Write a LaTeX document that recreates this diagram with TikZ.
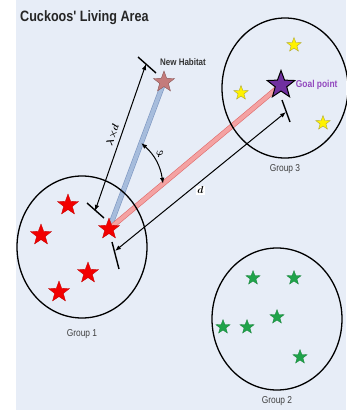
\documentclass[tikz,border=0pt]{standalone}
\usepackage{fontspec}
\setmainfont{Liberation Sans}
\newfontfamily\narrowsans{Liberation Sans}[FakeStretch=0.84]
\usetikzlibrary{arrows.meta, positioning, shapes.geometric, calc, backgrounds}
\definecolor{areaBlue}{HTML}{E7EDF7}
\definecolor{nestRed}{HTML}{F20000}
\definecolor{nestGreen}{HTML}{1FA34A}
\definecolor{nestYellow}{HTML}{FFF200}
\definecolor{goalPurple}{HTML}{7030A0}
\definecolor{goalText}{HTML}{9248BE}
\definecolor{habitatRose}{HTML}{C47B7B}
\definecolor{beamBlue}{HTML}{A6BCDC}
\definecolor{beamBlueDark}{HTML}{7D96C0}
\definecolor{beamRed}{HTML}{F4A2A2}
\definecolor{beamRedDark}{HTML}{E06A6A}

\begin{document}
\begin{tikzpicture}[x=1pt, y=-1pt]
    \tikzset{
        group/.style={ellipse, draw=black, line width=1.3pt, minimum width=130pt, minimum height=142pt, inner sep=0pt},
        grouplabel/.style={font=\narrowsans\fontsize{10}{12}\selectfont, text=black!75},
        cuckoo/.style={star, star points=5, star point ratio=2.4, inner sep=0pt, minimum size=#1},
        dimline/.style={black, line width=1pt, {Latex[length=6pt, width=4.5pt]}-{Latex[length=6pt, width=4.5pt]}},
        dimtick/.style={black, line width=1.4pt},
        dimlabel/.style={font=\boldmath\fontsize{10}{12}\selectfont},
        beam/.style={line width=0.6pt, double distance=4pt},
    }
    \useasboundingbox (0,0) rectangle (346,410);

    % Title
    \node[font=\narrowsans\bfseries\fontsize{15}{17}\selectfont, anchor=base west, text=black!85, inner sep=0pt] (title) at (20,21) {Cuckoos' Living Area};

    % Groups
    \node[group] (g1) at (82,247) {};
    \node[grouplabel, below=7pt of g1] (g1lab) {Group 1};
    \node[group] (g2) at (277,319) {};
    \node[grouplabel, below=2pt of g2] (g2lab) {Group 2};
    \node[group, minimum width=126pt, minimum height=140pt] (g3) at (285,88) {};
    \node[grouplabel, below=2pt of g3] (g3lab) {Group 3};

    % Group 1 cuckoos
    \node[cuckoo=22pt, fill=nestRed, draw=nestRed!80!black, line width=0.3pt] (r1) at (68,205) {};
    \node[cuckoo=22pt, fill=nestRed, draw=nestRed!80!black, line width=0.3pt] (r2) at (41,235) {};
    \node[cuckoo=22pt, fill=nestRed, draw=nestRed!80!black, line width=0.3pt] (r3) at (88,273) {};
    \node[cuckoo=22pt, fill=nestRed, draw=nestRed!80!black, line width=0.3pt] (r4) at (59,292) {};
    \node[cuckoo=22pt, fill=nestRed, draw=nestRed!80!black, line width=0.3pt] (cur) at (109,229) {};

    % Group 2 cuckoos
    \node[cuckoo=15pt, fill=nestGreen, draw=nestGreen!80!black, line width=0.3pt] (n1) at (253,278) {};
    \node[cuckoo=15pt, fill=nestGreen, draw=nestGreen!80!black, line width=0.3pt] (n2) at (294,278) {};
    \node[cuckoo=15pt, fill=nestGreen, draw=nestGreen!80!black, line width=0.3pt] (n3) at (223,327) {};
    \node[cuckoo=15pt, fill=nestGreen, draw=nestGreen!80!black, line width=0.3pt] (n4) at (247,327) {};
    \node[cuckoo=15pt, fill=nestGreen, draw=nestGreen!80!black, line width=0.3pt] (n5) at (277,317) {};
    \node[cuckoo=15pt, fill=nestGreen, draw=nestGreen!80!black, line width=0.3pt] (n6) at (300,357) {};

    % Group 3 cuckoos
    \node[cuckoo=15pt, fill=nestYellow, draw=olive!70, line width=0.4pt] (y1) at (294,45) {};
    \node[cuckoo=15pt, fill=nestYellow, draw=olive!70, line width=0.4pt] (y2) at (241,93) {};
    \node[cuckoo=15pt, fill=nestYellow, draw=olive!70, line width=0.4pt] (y3) at (323,123) {};
    \node[cuckoo=29pt, fill=goalPurple, draw=black, line width=1pt] (goal) at (281,85) {};
    \node[font=\narrowsans\bfseries\fontsize{10}{12}\selectfont, text=goalText, right=2.5pt of goal] (goallab) {Goal point};

    % New habitat
    \node[cuckoo=22pt, fill=habitatRose, draw=habitatRose!70!black, line width=0.4pt] (hab) at (164,82) {};
    \node[font=\narrowsans\bfseries\fontsize{9.5}{11}\selectfont, text=black!80] (hablab) at (183,62) {New Habitat};

    % Beams
    \begin{scope}[on background layer]
        \fill[areaBlue] (16,0) rectangle (346,410);
        \draw[beam, draw=beamBlueDark, double=beamBlue] (cur.center) -- (hab.center);
        \draw[beam, draw=beamRedDark, double=beamRed] (cur.center) -- (goal.center);
    \end{scope}

    % Step length lambda x d
    \coordinate (lamTop) at (146,64);
    \coordinate (lamBot) at (95,211);
    \draw[dimtick] (lamTop) ++(-8,-7) -- ++(18,16);
    \draw[dimtick] (lamBot) ++(-8,-8) -- ++(17,15);
    \draw[dimline] (lamBot) -- node[sloped, above, dimlabel] {$\lambda{\times}d$} (lamTop);

    % Distance d
    \coordinate (dBot) at (115,251);
    \coordinate (dTop) at (286,112);
    \draw[dimtick] (dBot) ++(-3,-9) -- ++(7,27);
    \draw[dimtick] (dTop) ++(-4,-12) -- ++(8,22);
    \draw[dimline] (dBot) -- node[pos=0.5, below=4pt, fill=white, inner sep=1pt, dimlabel] {$d$} (dTop);

    % Deviation angle
    \coordinate (phiA) at ($(cur.center)!0.585!(hab.center)$);
    \coordinate (phiB) at ($(cur.center)!0.314!(goal.center)$);
    \draw[dimline] (phiA) to[bend left=20] node[pos=0.3, right=1pt, dimlabel] {$\varphi$} (phiB);
\end{tikzpicture}
\end{document}
